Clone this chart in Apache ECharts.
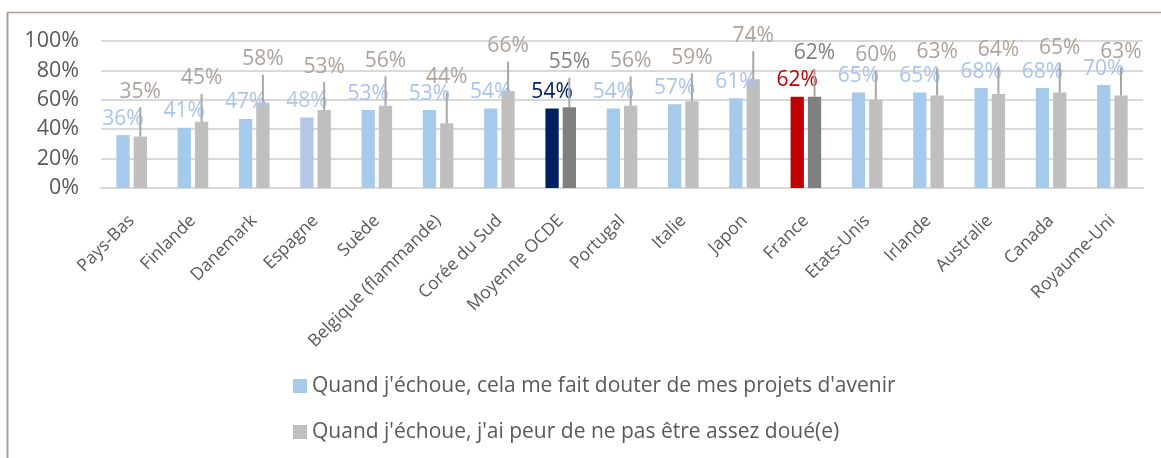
<!DOCTYPE html>
<html>
<head>
<meta charset="utf-8">
<script src="https://cdn.jsdelivr.net/npm/echarts@6/dist/echarts.min.js"></script>
<style>
  html, body { margin: 0; padding: 0; background: #fff; }
  #main { width: 1161px; height: 458px; }
</style>
</head>
<body>
<div id="main"></div>
<script>
const categories = ['Pays-Bas', 'Finlande', 'Danemark', 'Espagne', 'Suède', 'Belgique (flammande)', 'Corée du Sud',
  'Moyenne OCDE', 'Portugal', 'Italie', 'Japon', 'France', 'Etats-Unis', 'Irlande', 'Australie', 'Canada', 'Royaume-Uni']
// Quand j'échoue, cela me fait douter de mes projets d'avenir
const doubtValues = [36, 41, 47, 48, 53, 53, 54, 54, 54, 57, 61, 62, 65, 65, 68, 68, 70]
// Quand j'échoue, j'ai peur de ne pas être assez doué(e)
const fearValues = [35, 45, 58, 53, 56, 44, 66, 55, 56, 59, 74, 62, 60, 63, 64, 65, 63]
// top of the upper error bar on the second series
const fearErrorTop = [55, 64, 77, 72, 76, 65, 86, 75, 76, 78, 93, 81, 80, 82, 83, 85, 82]

const seriesNames = [
  "Quand j'échoue, cela me fait douter de mes projets d'avenir",
  "Quand j'échoue, j'ai peur de ne pas être assez doué(e)"
]

const FONT = '"Open Sans", sans-serif'
const BLUE = '#A6CAEC'
const GRAY = '#BFBFBF'
const BLUE_LABEL = '#A9C4EB'
const GRAY_LABEL = '#ABA39B'

// special colours per category
const highlight = {
  'Espagne': { blue: '#B4C7E7', blueLabel: '#B4C7E7' },
  'Moyenne OCDE': { blue: '#002060', blueLabel: '#002060', gray: '#7F7F7F', grayLabel: '#7F7F7F' },
  'France': { blue: '#C00000', blueLabel: '#C00000', gray: '#7F7F7F', grayLabel: '#7F7F7F' }
}

const BAR_W = 0.217
const BAR_GAP = 0.3
const LABEL_SIZE = 21

const option = {
  animation: false,
  textStyle: { fontFamily: FONT },
  graphic: [
    { type: 'line', shape: { x1: 7, y1: 12.5, x2: 1161, y2: 12.5 }, style: { stroke: '#ABA199', lineWidth: 1.3 } },
    { type: 'line', shape: { x1: 7.5, y1: 12, x2: 7.5, y2: 458 }, style: { stroke: '#ABA199', lineWidth: 2 } }
  ],
  grid: { left: 101, right: 18, top: 41, bottom: 270, containLabel: false },
  legend: {
    orient: 'vertical',
    left: 293,
    top: 374,
    padding: 0,
    itemWidth: 14,
    itemHeight: 14,
    itemGap: 22,
    icon: 'rect',
    data: seriesNames,
    textStyle: { fontFamily: FONT, fontSize: 21, color: '#595959', lineHeight: 24 }
  },
  xAxis: {
    type: 'category',
    data: categories,
    axisTick: { show: false },
    axisLine: { lineStyle: { color: '#D9D9D9', width: 2 } },
    axisLabel: { interval: 0, rotate: 45, margin: 30, fontSize: 17.5, color: '#595959', fontFamily: FONT }
  },
  yAxis: {
    type: 'value',
    min: 0,
    max: 100,
    interval: 20,
    axisLine: { show: false },
    axisTick: { show: false },
    splitLine: { lineStyle: { color: '#D9D9D9', width: 2 } },
    axisLabel: { formatter: '{value}%', margin: 22, fontSize: 21.5, color: '#595959', fontFamily: FONT }
  },
  series: [
    {
      name: seriesNames[0],
      type: 'bar',
      barWidth: (BAR_W * 100) + '%',
      barGap: (BAR_GAP * 100) + '%',
      itemStyle: { color: BLUE },
      label: { show: true, position: 'top', distance: 6, fontSize: LABEL_SIZE, fontFamily: FONT, color: BLUE_LABEL, formatter: '{c}%' },
      data: doubtValues.map((v, i) => {
        const h = highlight[categories[i]] || {}
        return {
          value: v,
          itemStyle: { color: h.blue || BLUE },
          label: { color: h.blueLabel || BLUE_LABEL }
        }
      })
    },
    {
      name: seriesNames[1],
      type: 'bar',
      barWidth: (BAR_W * 100) + '%',
      barGap: (BAR_GAP * 100) + '%',
      itemStyle: { color: GRAY },
      data: fearValues.map((v, i) => {
        const h = highlight[categories[i]] || {}
        return { value: v, itemStyle: { color: h.gray || GRAY } }
      })
    },
    {
      name: 'errors',
      type: 'custom',
      z: 5,
      data: fearValues.map((v, i) => [i, v, fearErrorTop[i]]),
      renderItem: function (params, api) {
        const i = api.value(0)
        const base = api.coord([i, api.value(1)])
        const top = api.coord([i, api.value(2)])
        const cw = api.size([1, 0])[0]
        const x = base[0] + cw * BAR_W * (1 + BAR_GAP) / 2
        const h = highlight[categories[i]] || {}
        return {
          type: 'group',
          children: [
            { type: 'line', shape: { x1: x, y1: base[1], x2: x, y2: top[1] }, style: { stroke: '#A6A6A6', lineWidth: 2 } },
            {
              type: 'text',
              x: x,
              y: top[1] - 5,
              style: { text: api.value(1) + '%', align: 'center', verticalAlign: 'bottom', fill: h.grayLabel || GRAY_LABEL, font: LABEL_SIZE + 'px ' + FONT }
            }
          ]
        }
      }
    }
  ]
}

const chart = echarts.init(document.getElementById('main'))
chart.setOption(option)
</script>
</body>
</html>
